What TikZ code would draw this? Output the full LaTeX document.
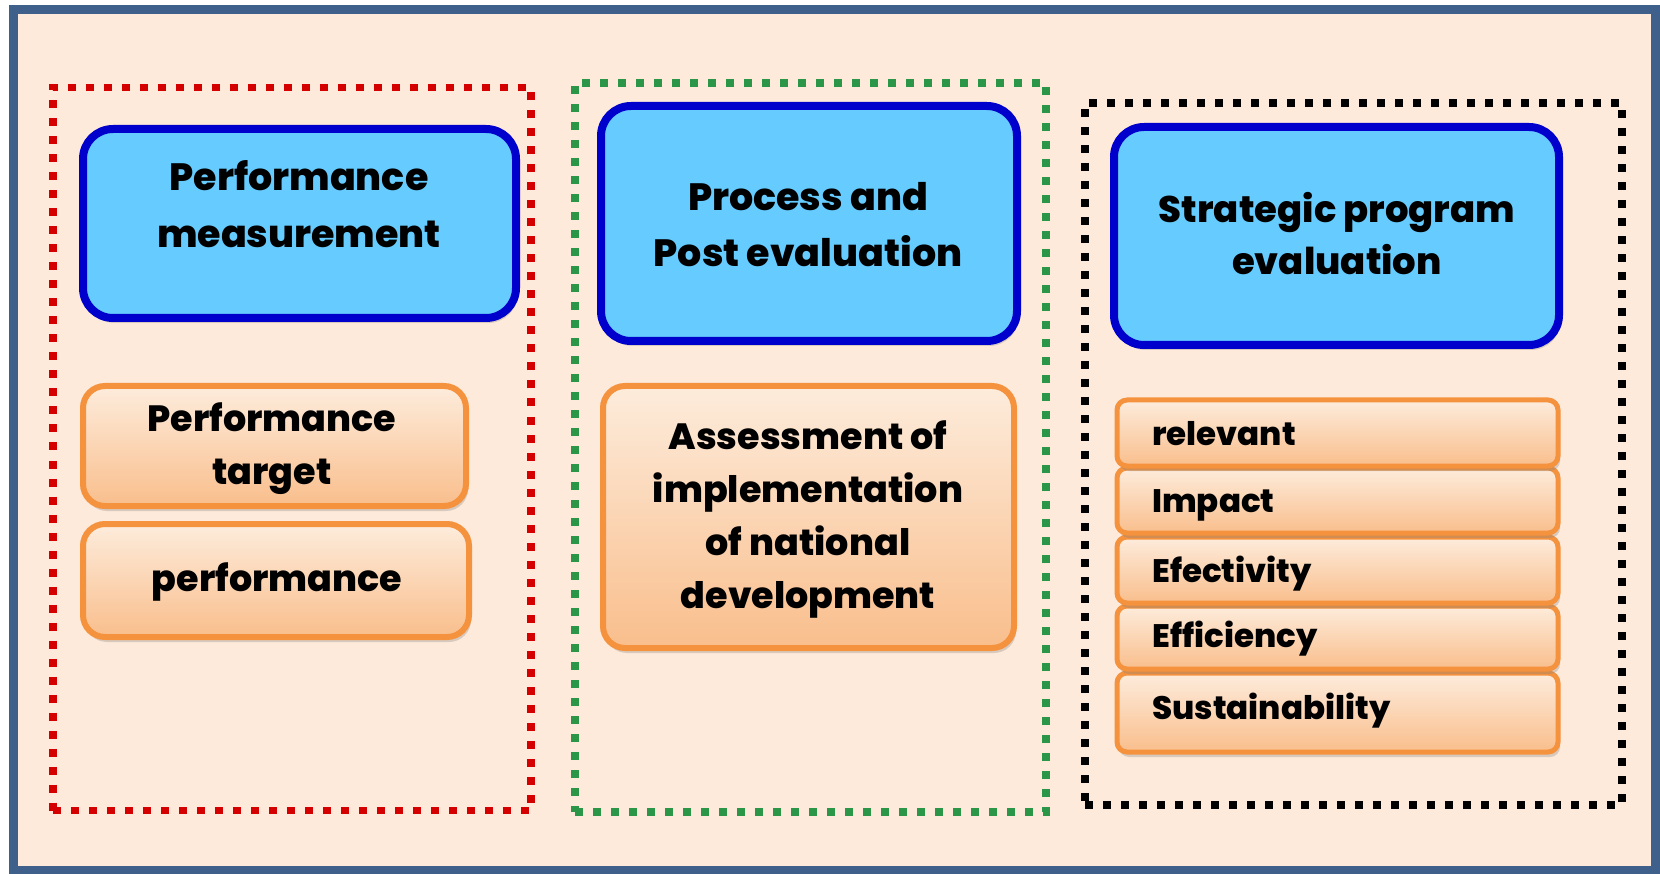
\documentclass[tikz,border=0pt]{standalone}
\usepackage{fontspec}
\setmainfont{Poppins}[BoldFont={Poppins ExtraBold}]
\usetikzlibrary{shadows}
\definecolor{peach}{RGB}{253,234,218}
\definecolor{frameblue}{RGB}{64,96,140}
\definecolor{dotred}{RGB}{212,0,0}
\definecolor{dotgreen}{RGB}{44,150,72}
\definecolor{skyfill}{RGB}{102,204,255}
\definecolor{deepblue}{RGB}{0,0,204}
\definecolor{orangeline}{RGB}{245,146,62}
\definecolor{orangetop}{RGB}{253,236,220}
\definecolor{orangebot}{RGB}{249,190,140}
\tikzset{
  dotframe/.style={line width=7.5pt, dash pattern=on 8pt off 10pt},
  bluebox/.style={draw=deepblue, line width=8pt, fill=skyfill, rounded corners=30pt,
    rectangle, inner sep=0pt,
    drop shadow={opacity=0.3, shadow xshift=2pt, shadow yshift=-5pt}},
  orbox/.style={draw=orangeline, line width=6pt, top color=orangetop, bottom color=orangebot,
    rounded corners=22pt, rectangle, inner sep=0pt,
    drop shadow={opacity=0.3, shadow xshift=2pt, shadow yshift=-5pt}},
  listbox/.style={orbox, rounded corners=10pt, line width=5pt},
  bigtxt/.style={font=\bfseries\fontsize{38pt}{57pt}\selectfont, align=center, inner sep=0pt},
  midtxt/.style={font=\bfseries\fontsize{36.5pt}{53pt}\selectfont, align=center, inner sep=0pt},
  listtxt/.style={font=\bfseries\fontsize{32.5pt}{36pt}\selectfont, inner sep=0pt, anchor=base west},
}
\begin{document}
\begin{tikzpicture}[x=1pt,y=-1pt]
\useasboundingbox (0,0) rectangle (1660,874);
\node[draw=frameblue, line width=9pt, fill=peach, rectangle, inner sep=0pt,
  minimum width=1642pt, minimum height=860pt] (frame) at (834,440) {};
% dotted groups
\node[draw=dotred, dotframe, rectangle, minimum width=478pt, minimum height=723pt] (grpA) at (292,449) {};
\node[draw=dotgreen, dotframe, rectangle, minimum width=471pt, minimum height=729pt] (grpB) at (810.5,447.5) {};
\node[draw=black, dotframe, rectangle, minimum width=537pt, minimum height=702pt] (grpC) at (1353.5,454) {};
% blue heads
\node[bluebox, minimum width=433pt, minimum height=189pt] (pm) at (299.5,223.5) {};
\node[bluebox, minimum width=416pt, minimum height=235pt] (pp) at (809,223.5) {};
\node[bluebox, minimum width=445pt, minimum height=218pt] (sp) at (1336.5,236) {};
\node[bigtxt] (pmt) at (299,204) {Performance\\measurement};
\node[bigtxt, font=\bfseries\fontsize{38pt}{56pt}\selectfont] (ppt) at (808,225) {Process and\\Post evaluation};
\node[bigtxt, font=\bfseries\fontsize{37pt}{52pt}\selectfont] (spt) at (1337,234) {Strategic program\\evaluation};
% orange boxes left
\node[orbox, minimum width=383pt, minimum height=120pt] (tg) at (274.5,446) {};
\node[orbox, minimum width=386pt, minimum height=113pt] (pf) at (276,580.5) {};
\node[midtxt] (tgt) at (272,449) {Performance\\target};
\node[midtxt] (pft) at (277,582) {performance};
% orange middle
\node[orbox, minimum width=411pt, minimum height=262pt] (as) at (808.5,517) {};
\node[midtxt] (ast) at (808,519) {Assessment of\\implementation\\of national\\development};
% list right
\node[listbox, minimum width=441pt, minimum height=79pt] (su) at (1337.5,712.5) {};
\node[listbox, minimum width=441pt, minimum height=63pt] (ey) at (1337.5,637.5) {};
\node[listbox, minimum width=441pt, minimum height=66pt] (ev) at (1337.5,570) {};
\node[listbox, minimum width=441pt, minimum height=65pt] (im) at (1337.5,500.5) {};
\node[listbox, minimum width=441pt, minimum height=66pt] (re) at (1337.5,433) {};
\node[listtxt] (ret) at (1152,445) {relevant};
\node[listtxt] (imt) at (1152,512) {Impact};
\node[listtxt] (evt) at (1152,582) {Efectivity};
\node[listtxt] (eyt) at (1152,647) {Efficiency};
\node[listtxt] (sut) at (1152,719) {Sustainability};
\end{tikzpicture}
\end{document}
